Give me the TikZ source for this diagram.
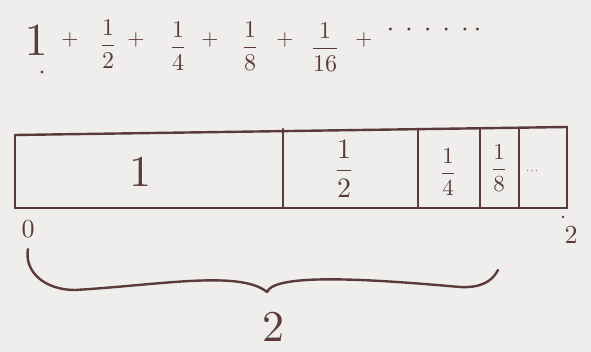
\documentclass[tikz,border=0pt]{standalone}
\usepackage{amsmath}
\definecolor{ink}{HTML}{5A3A3A}
\definecolor{paper}{HTML}{EFEEEC}
\newcommand{\bigfr}[3]{\scalebox{#1}{$\dfrac{#2}{#3}$}}
\newcommand{\bignum}[2]{\scalebox{#1}{$#2$}}
\tikzset{
  pen/.style={ink, line width=2.4pt, line cap=round, line join=round},
  term/.style={ink, inner sep=0pt},
}
\begin{document}
\begin{tikzpicture}[x=1pt,y=-1pt]
      \fill[paper] (0,0) rectangle (591,352);
      \useasboundingbox (0,0) rectangle (591,352);
      % series
      \node[term] (t0) at (36,41) {\bignum{4.6}{1}};
      \fill[ink] (42,72) circle (1.6pt);
      \node[term] (t1) at (108,44) {\bigfr{2.4}{1}{2}};
      \node[term] (t2) at (178,46) {\bigfr{2.4}{1}{4}};
      \node[term] (t3) at (250,46) {\bigfr{2.4}{1}{8}};
      \node[term] (t4) at (325,47) {\bigfr{2.4}{1}{16}};
      \foreach \x/\n in {70/p1,136/p2,210/p3,285/p4,364/p5}
        \node[term] (\n) at (\x,40) {\bignum{2.2}{+}};
      \node[term] (dots) at (434,30) {\bignum{2.8}{\cdot\,\cdot\,\cdot\,\cdot\,\cdot\,\cdot}};
      % bar of length 2
      \coordinate (a) at (15,135);
      \coordinate (b) at (567,127);
      \coordinate (c) at (567,208);
      \coordinate (d) at (15,208);
      \draw[pen] (a) -- (b);
      \draw[pen] (d) -- (c);
      \draw[pen] (a) -- (d);
      \draw[pen] (b) -- (c);
      \foreach \x in {283,418,480,519}
        \draw[pen] (\x,129) -- (\x,208);
      \node[term] (one) at (140,172) {\bignum{4.4}{1}};
      \node[term] (half) at (344,169) {\bigfr{2.8}{1}{2}};
      \node[term] (quarter) at (448,172) {\bigfr{2.3}{1}{4}};
      \node[term] (eighth) at (499,168) {\bigfr{2.3}{1}{8}};
      \node[term] (rest) at (533,171) {$\cdots$};
      % ends
      \node[term] (zero) at (28,229) {\bignum{2.6}{0}};
      \fill[ink] (563,217) circle (1.4pt);
      \node[term] (two) at (571,235) {\bignum{2.6}{2}};
      % brace
      \coordinate (bl) at (28,249);
      \coordinate (bm) at (267,292);
      \coordinate (br) at (498,270);
      \draw[pen] (bl) .. controls (24,272) and (45,290) .. (75,290)
                  .. controls (160,285) and (240,270) .. (bm)
                  .. controls (275,272) and (380,280) .. (460,287)
                  .. controls (480,288) and (492,282) .. (br);
      \node[term] (total) at (273,327) {\bignum{4.4}{2}};
\end{tikzpicture}
\end{document}
